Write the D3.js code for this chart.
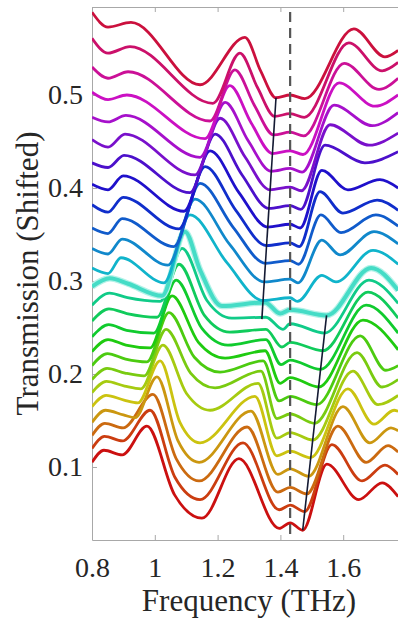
<!DOCTYPE html>
<html lang="en">
<head>
<meta charset="UTF-8">
<title>Transmission (Shifted)</title>
<script src="https://d3js.org/d3.v7.min.js"></script>
<style>
  body { margin: 0; background: #fff; }
  svg { display: block; }
  .tick text { font-family: "Liberation Serif", "Times New Roman", serif; font-size: 28px; fill: #262626; }
  .axis-title { font-family: "Liberation Serif", "Times New Roman", serif; font-size: 31px; fill: #262626; }
  .domain, .tick line { stroke: #a8a8a8; }
</style>
</head>
<body>
<script>
// spectra from bottom (red) to top (crimson), [frequency THz, shifted transmission]
const tr00 = [[0.800,0.105],[0.838,0.118],[0.896,0.113],[0.975,0.144],[1.063,0.070],[1.150,0.045],[1.268,0.109],[1.396,0.034],[1.431,0.040],[1.471,0.032],[1.548,0.103],[1.650,0.065],[1.724,0.083],[1.775,0.068]];
const tr01 = [[0.800,0.120],[0.840,0.133],[0.897,0.128],[0.985,0.161],[1.064,0.089],[1.144,0.065],[1.281,0.126],[1.396,0.054],[1.431,0.059],[1.477,0.052],[1.564,0.124],[1.660,0.085],[1.733,0.102],[1.775,0.092]];
const tr02 = [[0.800,0.134],[0.841,0.147],[0.899,0.142],[0.994,0.178],[1.068,0.109],[1.141,0.085],[1.294,0.143],[1.392,0.073],[1.431,0.078],[1.484,0.071],[1.583,0.144],[1.673,0.105],[1.743,0.123],[1.775,0.116]];
const tr03 = [[0.800,0.148],[0.843,0.161],[0.900,0.156],[0.937,0.153],[1.007,0.197],[1.074,0.128],[1.141,0.105],[1.306,0.160],[1.392,0.092],[1.431,0.098],[1.490,0.090],[1.599,0.165],[1.685,0.126],[1.752,0.142],[1.775,0.139]];
const tr04 = [[0.800,0.165],[0.845,0.177],[0.902,0.172],[0.946,0.169],[1.017,0.214],[1.080,0.148],[1.144,0.126],[1.319,0.176],[1.389,0.112],[1.431,0.117],[1.496,0.110],[1.615,0.184],[1.698,0.146],[1.762,0.161],[1.775,0.160]];
const tr05 = [[0.800,0.180],[0.846,0.192],[0.904,0.187],[0.956,0.184],[1.026,0.231],[1.101,0.179],[1.176,0.161],[1.329,0.190],[1.389,0.131],[1.431,0.137],[1.503,0.129],[1.631,0.203],[1.711,0.167],[1.775,0.177]];
const tr06 = [[0.800,0.194],[0.848,0.206],[0.905,0.201],[0.966,0.198],[1.036,0.248],[1.114,0.201],[1.192,0.185],[1.338,0.203],[1.389,0.152],[1.431,0.157],[1.509,0.147],[1.644,0.223],[1.724,0.186],[1.775,0.194]];
const tr07 = [[0.800,0.209],[0.849,0.222],[0.907,0.216],[0.975,0.213],[1.045,0.266],[1.126,0.218],[1.208,0.202],[1.345,0.214],[1.396,0.171],[1.431,0.176],[1.516,0.167],[1.654,0.241],[1.736,0.204],[1.775,0.209]];
const tr08 = [[0.800,0.224],[0.851,0.237],[0.908,0.231],[0.985,0.228],[1.055,0.284],[1.139,0.234],[1.224,0.217],[1.351,0.225],[1.399,0.190],[1.431,0.196],[1.522,0.186],[1.663,0.258],[1.775,0.226]];
const tr09 = [[0.800,0.240],[0.853,0.253],[0.910,0.247],[0.997,0.244],[1.068,0.301],[1.150,0.249],[1.233,0.231],[1.354,0.237],[1.402,0.210],[1.431,0.215],[1.528,0.205],[1.673,0.274],[1.775,0.244]];
const tr10 = [[0.800,0.257],[0.854,0.270],[0.911,0.265],[1.007,0.261],[1.077,0.318],[1.158,0.263],[1.239,0.245],[1.354,0.248],[1.405,0.229],[1.431,0.234],[1.535,0.225],[1.679,0.288],[1.775,0.260]];
const tr11 = [[0.800,0.274],[0.856,0.287],[0.913,0.282],[1.017,0.278],[1.087,0.335],[1.166,0.279],[1.245,0.260],[1.354,0.261],[1.408,0.248],[1.431,0.254],[1.541,0.244],[1.682,0.301],[1.775,0.276]];
const tr12 = [[0.800,0.294],[0.857,0.303],[0.915,0.297],[1.023,0.284],[1.096,0.353],[1.144,0.312],[1.214,0.273],[1.351,0.277],[1.399,0.265],[1.431,0.269],[1.547,0.263],[1.689,0.314],[1.775,0.290]];
const tr13 = [[0.800,0.314],[0.851,0.308],[0.892,0.325],[1.029,0.298],[1.112,0.371],[1.229,0.320],[1.345,0.279],[1.431,0.282],[1.454,0.278],[1.532,0.306],[1.577,0.299],[1.695,0.333],[1.775,0.318]];
const tr14 = [[0.800,0.335],[0.851,0.329],[0.896,0.345],[1.042,0.317],[1.128,0.388],[1.239,0.339],[1.349,0.299],[1.431,0.302],[1.456,0.298],[1.532,0.344],[1.590,0.328],[1.698,0.353],[1.775,0.340]];
const tr15 = [[0.800,0.357],[0.851,0.351],[0.896,0.367],[1.061,0.337],[1.144,0.405],[1.249,0.358],[1.353,0.319],[1.431,0.322],[1.458,0.318],[1.529,0.371],[1.593,0.352],[1.704,0.371],[1.775,0.359]];
const tr16 = [[0.800,0.382],[0.851,0.374],[0.899,0.390],[1.077,0.356],[1.160,0.423],[1.258,0.376],[1.356,0.338],[1.431,0.341],[1.460,0.337],[1.526,0.396],[1.599,0.373],[1.708,0.387],[1.775,0.376]];
const tr17 = [[0.800,0.404],[0.851,0.398],[0.899,0.413],[1.093,0.375],[1.176,0.440],[1.268,0.395],[1.360,0.358],[1.431,0.361],[1.463,0.357],[1.532,0.419],[1.615,0.398],[1.717,0.409],[1.775,0.400]];
const tr18 = [[0.800,0.427],[0.851,0.422],[0.902,0.435],[1.112,0.395],[1.192,0.458],[1.278,0.414],[1.364,0.378],[1.431,0.381],[1.465,0.377],[1.542,0.446],[1.669,0.427],[1.775,0.439]];
const tr19 = [[0.800,0.452],[0.851,0.444],[0.905,0.458],[1.128,0.414],[1.208,0.475],[1.288,0.433],[1.367,0.398],[1.431,0.401],[1.467,0.397],[1.558,0.468],[1.682,0.446],[1.775,0.459]];
const tr20 = [[0.800,0.476],[0.851,0.471],[0.908,0.478],[1.144,0.433],[1.224,0.492],[1.297,0.451],[1.371,0.418],[1.431,0.421],[1.469,0.417],[1.571,0.489],[1.692,0.467],[1.775,0.481]];
const tr21 = [[0.800,0.503],[0.851,0.495],[0.911,0.500],[1.160,0.453],[1.239,0.510],[1.307,0.470],[1.375,0.437],[1.431,0.440],[1.472,0.436],[1.587,0.513],[1.701,0.488],[1.775,0.500]];
const tr22 = [[0.800,0.530],[0.851,0.518],[0.915,0.525],[1.176,0.472],[1.255,0.527],[1.317,0.489],[1.379,0.457],[1.431,0.460],[1.474,0.456],[1.603,0.534],[1.714,0.506],[1.775,0.518]];
const tr23 = [[0.800,0.561],[0.851,0.545],[0.921,0.552],[1.185,0.491],[1.271,0.545],[1.327,0.508],[1.382,0.477],[1.431,0.480],[1.476,0.476],[1.618,0.556],[1.724,0.526],[1.775,0.535]];
const tr24 = [[0.800,0.589],[0.851,0.573],[0.924,0.578],[1.144,0.511],[1.287,0.562],[1.337,0.526],[1.386,0.497],[1.431,0.500],[1.478,0.496],[1.634,0.571],[1.733,0.541],[1.775,0.548]];

const curves = [tr00, tr01, tr02, tr03, tr04, tr05, tr06, tr07, tr08, tr09, tr10, tr11, tr12,
                tr13, tr14, tr15, tr16, tr17, tr18, tr19, tr20, tr21, tr22, tr23, tr24];
const highlighted = 12;

const xTicks = [0.8, 1, 1.2, 1.4, 1.6];
const yTicks = [0.1, 0.2, 0.3, 0.4, 0.5];
const dashFreq = 1.431;
const guideA = [[1.386, 0.497], [1.341, 0.259]];
const guideB = [[1.547, 0.263], [1.471, 0.032]];

const width = 398, height = 621;
const box = {left: 92, right: 406, top: 7, bottom: 540};

const svg = d3.select("body").append("svg")
    .attr("width", width)
    .attr("height", height);

const x = d3.scaleLinear().domain([0.8, 1.8]).range([box.left, box.right]);
const y = d3.scaleLinear().domain([0.0215, 0.5946]).range([box.bottom, box.top]);

svg.append("clipPath").attr("id", "plot")
  .append("rect")
    .attr("x", box.left).attr("y", box.top)
    .attr("width", box.right - box.left).attr("height", box.bottom - box.top);

// axes, ticks pointing inward
svg.append("g")
    .attr("transform", `translate(0,${box.bottom})`)
    .call(d3.axisBottom(x).tickValues(xTicks).tickSizeInner(-5).tickSizeOuter(0)
          .tickPadding(17).tickFormat(d => d));

svg.append("g")
    .attr("transform", `translate(0,${box.top})`)
    .call(d3.axisTop(x).tickValues(xTicks).tickSizeInner(-5).tickSizeOuter(0).tickFormat(""));

svg.append("g")
    .attr("transform", `translate(${box.left},0)`)
    .call(d3.axisLeft(y).tickValues(yTicks).tickSizeInner(-5).tickSizeOuter(0)
          .tickPadding(9).tickFormat(d => d));

const line = d3.line()
    .x(d => x(d[0]))
    .y(d => y(d[1]))
    .curve(d3.curveMonotoneX);

const plot = svg.append("g").attr("clip-path", "url(#plot)");

curves.forEach((c, i) => {
  const col = d3.hsl(i * 360 / curves.length, 0.85, 0.43);
  if (i === highlighted) {
    // the highlighted spectrum: wider, light turquoise with a soft edge
    plot.append("path").datum(c)
        .attr("fill", "none")
        .attr("stroke", "#b4f2e8")
        .attr("stroke-width", 6.5)
        .attr("stroke-linejoin", "round")
        .attr("d", line);
    plot.append("path").datum(c)
        .attr("fill", "none")
        .attr("stroke", "#45dcc6")
        .attr("stroke-width", 4)
        .attr("stroke-linejoin", "round")
        .attr("d", line);
  } else {
    plot.append("path").datum(c)
        .attr("fill", "none")
        .attr("stroke", col)
        .attr("stroke-width", 2.8)
        .attr("stroke-linejoin", "round")
        .attr("d", line);
  }
});

// dashed reference frequency
plot.append("line")
    .attr("x1", x(dashFreq)).attr("x2", x(dashFreq))
    .attr("y1", box.top + 5).attr("y2", box.bottom)
    .attr("stroke", "#555")
    .attr("stroke-width", 2.2)
    .attr("stroke-dasharray", "10,6");

// guide lines through the dips
[guideA, guideB].forEach(g => {
  plot.append("path").datum(g)
      .attr("fill", "none")
      .attr("stroke", "#141a33")
      .attr("stroke-width", 1.6)
      .attr("d", d3.line().x(d => x(d[0])).y(d => y(d[1])));
});

svg.append("text")
    .attr("class", "axis-title")
    .attr("x", (box.left + box.right) / 2)
    .attr("y", 611)
    .attr("text-anchor", "middle")
    .text("Frequency (THz)");

svg.append("text")
    .attr("class", "axis-title")
    .attr("transform", `translate(38,${(box.top + box.bottom) / 2}) rotate(-90)`)
    .attr("text-anchor", "middle")
    .text("Transmission (Shifted)");
</script>
</body>
</html>
